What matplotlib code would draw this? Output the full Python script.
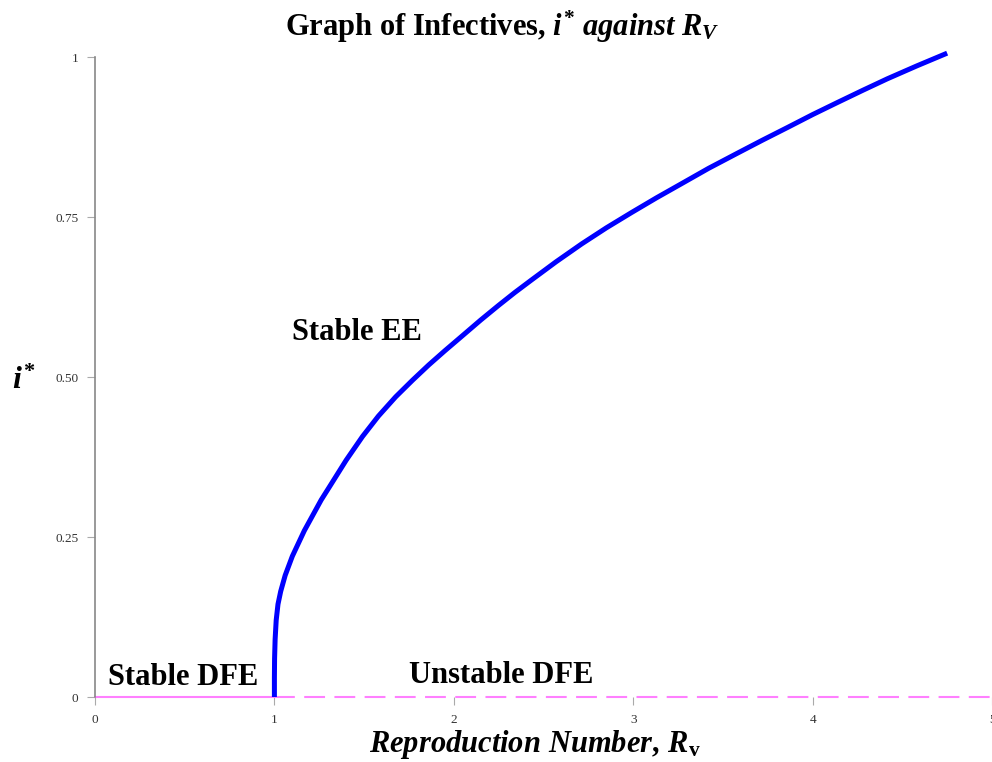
import matplotlib
matplotlib.use("Agg")
import matplotlib.pyplot as plt

# values (R_v, i*)
r_v = [1.0, 1.0, 1.001, 1.004, 1.010, 1.02, 1.035, 1.06, 1.10, 1.167, 1.261, 1.306,
       1.40, 1.491, 1.58, 1.676, 1.77, 1.861, 1.95, 2.046, 2.15, 2.25, 2.34,
       2.435, 2.57, 2.713, 2.85, 2.991, 3.13, 3.269, 3.42, 3.583, 3.72, 3.861,
       4.0, 4.139, 4.28, 4.417, 4.58, 4.75]
i_star = [0.0, 0.03, 0.06, 0.09, 0.12, 0.145, 0.165, 0.19, 0.22, 0.26, 0.308, 0.328,
          0.370, 0.407, 0.439, 0.469, 0.495, 0.519, 0.541, 0.564, 0.589, 0.612, 0.632,
          0.652, 0.680, 0.708, 0.733, 0.757, 0.780, 0.802, 0.826, 0.850, 0.870, 0.890,
          0.910, 0.929, 0.948, 0.966, 0.986, 1.006]

dfe_stable_x = [0, 1]
dfe_unstable_x = [1, 5]
dfe_y = [0, 0]

x_ticks = [0, 1, 2, 3, 4, 5]
y_ticks = [0, 0.25, 0.5, 0.75, 1]
y_tick_labels = ["0", "0.25", "0.50", "0.75", "1"]

plt.rcParams["font.family"] = ["Liberation Serif", "DejaVu Serif"]
plt.rcParams["mathtext.fontset"] = "custom"
plt.rcParams["mathtext.rm"] = "Liberation Serif:bold"
plt.rcParams["mathtext.it"] = "Liberation Serif:italic:bold"
plt.rcParams["mathtext.bf"] = "Liberation Serif:bold"

fig = plt.figure(figsize=(9.92, 7.62), dpi=100)
ax = fig.add_axes([95 / 992, 65 / 762, 897 / 992, 640 / 762])

ax.plot(dfe_stable_x, dfe_y, color="#ff80ff", lw=1.5, clip_on=False)
ax.plot(dfe_unstable_x, dfe_y, color="#ff80ff", lw=1.5, dashes=(10, 4.5), clip_on=False)
ax.plot(r_v, i_star, color="#0000ff", lw=3.6, clip_on=False,
        solid_capstyle="butt", solid_joinstyle="round")

ax.set_xlim(0, 897 / 180)
ax.set_ylim(0, 1)
ax.set_xticks(x_ticks)
ax.set_yticks(y_ticks)
ax.set_yticklabels(y_tick_labels)
ax.tick_params(colors="#aaaaaa", labelcolor="#333333", labelsize=9.5, length=6, width=0.8)
ax.tick_params(axis="y", pad=6)
ax.tick_params(axis="x", pad=6)

for s in ["top", "right", "bottom"]:
    ax.spines[s].set_visible(False)
ax.spines["left"].set_color("#888888")
ax.spines["left"].set_linewidth(1.2)

ax.text(1.1, 0.57, "Stable EE", fontsize=22, fontweight="bold", va="center")
ax.text(0.072, 0.031, "Stable DFE", fontsize=22, fontweight="bold", va="center")
ax.text(1.75, 0.033, "Unstable DFE", fontsize=22, fontweight="bold", va="center")

ax.set_xlabel(r"$Reproduction\ Number,\!\ R_{\mathbf{v}}$", fontsize=22)
ax.xaxis.set_label_coords(0.49, -0.048)
ax.set_ylabel(r"$i^{*}$", fontsize=23, rotation=0)
ax.yaxis.set_label_coords(-0.08, 0.47)

fig.text(502 / 992, 1 - 27 / 762, r"Graph of Infectives, $i^{*}$ $against$ $R_V$",
         ha="center", va="center", fontsize=22, fontweight="bold")

fig.savefig("out.png", dpi=100)
